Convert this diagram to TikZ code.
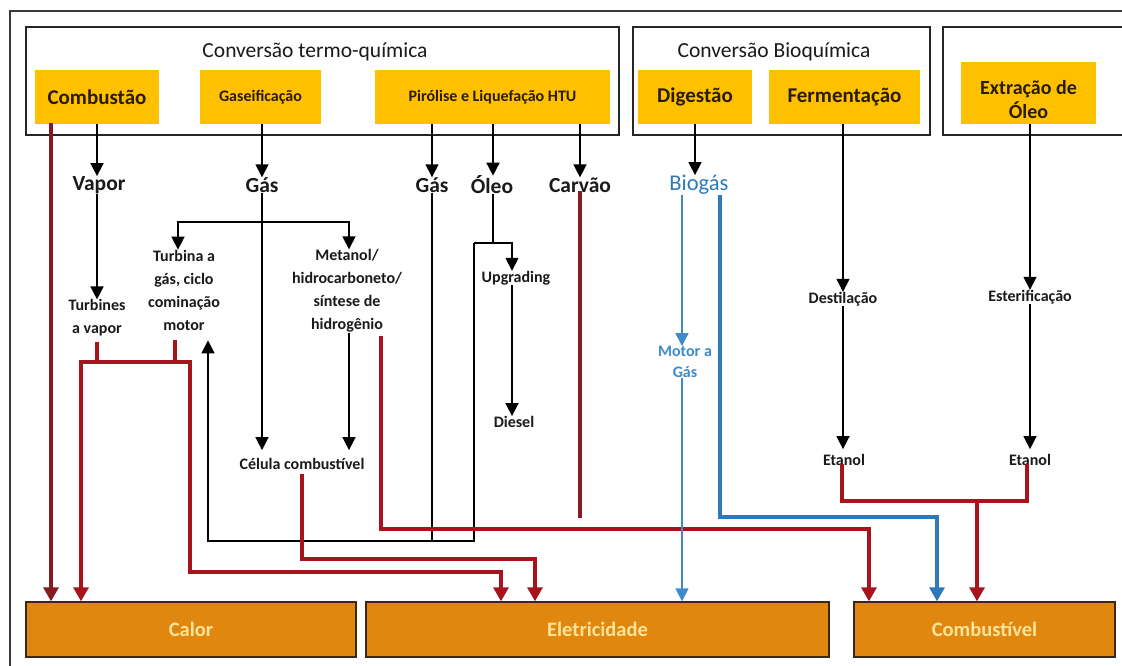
\documentclass[tikz,border=0pt]{standalone}
\usepackage{fontspec}
\setmainfont{Carlito}
\usetikzlibrary{arrows.meta}
\definecolor{ybg}{HTML}{FFC000}
\definecolor{ytx}{HTML}{2A1C00}
\definecolor{obg}{HTML}{E0870F}
\definecolor{otx}{HTML}{FFE49A}
\definecolor{obd}{HTML}{3B2814}
\definecolor{rl}{HTML}{A8141C}
\definecolor{rd}{HTML}{861B24}
\definecolor{bl}{HTML}{2E7AB8}
\definecolor{blt}{HTML}{3D8BCB}
\definecolor{frm}{HTML}{3A3A3A}
\definecolor{tx}{HTML}{1A1A1A}
\newcommand\titlefont{\fontsize{21.5}{26}\selectfont}
\newcommand\labelfont{\bfseries\fontsize{21.5}{26}\selectfont}
\newcommand\boxfont{\bfseries\fontsize{21}{25}\selectfont}
\newcommand\smallfont{\bfseries\fontsize{16}{23}\selectfont}
\newcommand\outfont{\bfseries\fontsize{20.5}{24}\selectfont}
\tikzset{
  grp/.style={draw=black!85, line width=1.4pt, inner sep=0pt},
  ybox/.style={fill=ybg, inner sep=0pt, text=ytx, align=center},
  obox/.style={fill=obg, draw=obd, line width=1.3pt, inner sep=0pt, text=otx, font=\outfont, minimum height=55pt},
  ttl/.style={font=\titlefont, inner sep=0pt, text=tx},
  lbl/.style={font=\labelfont, inner sep=0pt, text=tx},
  sml/.style={font=\smallfont, inner sep=0pt, align=center, text=tx},
  bline/.style={draw=black, line width=1.5pt},
  barr/.style={bline, -{Triangle[length=13pt,width=13pt]}},
  rline/.style={draw=rl, line width=3.2pt, line cap=rect},
  rarr/.style={rline, -{Triangle[length=14pt,width=15pt]}},
  rdline/.style={rline, draw=rd},
  bthin/.style={draw=blt, line width=1.4pt, -{Triangle[length=13pt,width=13pt]}},
  bthick/.style={draw=bl, line width=3.2pt, -{Triangle[length=14pt,width=15pt]}},
}
\begin{document}
\begin{tikzpicture}[x=1pt,y=-1pt]
\useasboundingbox (0,0) rectangle (1122,666);
\fill[white] (0,0) rectangle (1122,666);
\node[draw=frm, line width=1.5pt, minimum width=1130pt, minimum height=680pt, inner sep=0pt] (frame) at (575,351) {};
% group boxes
\node[grp, minimum width=593pt, minimum height=108pt] (gT) at (322.5,81) {};
\node[grp, minimum width=297pt, minimum height=108pt] (gB) at (781.5,81) {};
\node[grp, minimum width=200pt, minimum height=108pt] (gE) at (1043,81) {};
\node[ttl] (tT) at (315,52) {Conversão termo-química};
\node[ttl] (tB) at (774,52) {Conversão Bioquímica};
% yellow boxes
\node[ybox, font=\boxfont, minimum width=124pt, minimum height=54pt] (comb) at (97,97) {Combustão};
\node[ybox, font=\smallfont, minimum width=121pt, minimum height=54pt] (gase) at (260.5,97) {Gaseificação};
\node[ybox, font=\smallfont, minimum width=235pt, minimum height=54pt] (piro) at (492.5,97) {Pirólise e Liquefação HTU};
\node[ybox, font=\boxfont, minimum width=114pt, minimum height=54pt] (dige) at (695,97) {Digestão};
\node[ybox, font=\boxfont, minimum width=151pt, minimum height=54pt] (ferm) at (844.5,97) {Fermentação};
\node[ybox, minimum width=135pt, minimum height=62pt] (extr) at (1028.5,93) {};
\node[ybox, font=\bfseries\fontsize{20}{24}\selectfont] (extrT) at (1028.5,100) {Extração de\\Óleo};
% labels
\node[lbl] (vapor) at (99,185) {Vapor};
\node[lbl] (gas1) at (262,185) {Gás};
\node[lbl] (gas2) at (432,185) {Gás};
\node[lbl] (oleo) at (492,185) {Óleo};
\node[lbl] (carvao) at (580,185) {Carvão};
\node[ttl, font=\fontsize{22.5}{26}\selectfont, text=bl] (biogas) at (699,185) {Biogás};
% intermediate
\node[sml] (turbv) at (97,318) {Turbines\\a vapor};
\node[sml] (turbg) at (184,290) {Turbina a\\gás, ciclo\\cominação\\motor};
\node[sml] (meta) at (347,291) {Metanol/\\hidrocarboneto/\\síntese de\\hidrogênio};
\node[sml] (upg) at (516,278) {Upgrading};
\node[sml] (diesel) at (514,422) {Diesel};
\node[sml] (celula) at (302,464) {Célula combustível};
\node[sml, text=blt, font=\bfseries\fontsize{16}{21}\selectfont] (motor) at (685,362) {Motor a\\Gás};
\node[sml] (dest) at (843,299) {Destilação};
\node[sml] (ester) at (1030,297) {Esterificação};
\node[sml] (etan1) at (844,460) {Etanol};
\node[sml] (etan2) at (1030,460) {Etanol};
% outputs
\node[obox, minimum width=330pt] (calor) at (191,629.5) {Calor};
\node[obox, minimum width=463pt] (eletr) at (597.5,629.5) {Eletricidade};
\node[obox, minimum width=261pt] (combu) at (984.5,629.5) {Combustível};
% black connectors
\draw[barr] (comb.south) -- (vapor.north -| comb.south);
\draw[barr] (gase.south -| gas1.north) -- (gas1.north);
\draw[barr] (piro.south -| gas2.north) -- (gas2.north);
\draw[barr] (piro.south -| 493,0) -- (oleo.north -| 493,0);
\draw[barr] (piro.south -| carvao.north) -- (carvao.north);
\draw[barr] (dige.south) -- (biogas.north -| dige.south);
\draw[barr] (vapor.south -| turbv.north) -- (turbv.north);
\coordinate (gbr) at (gas1.south |- 0,222);
\draw[barr, shorten >=8pt] (gas1.south) -- (gas1.south |- celula.north);
\draw[barr] (gbr) -| (turbg.north -| 178,0);
\draw[barr] (gbr) -| (meta.north -| 349,0);
\draw[barr, shorten >=8pt] (meta.south -| 349,0) -- (celula.north -| 349,0);
\draw[bline] (gas2.south) -- (gas2.south |- 0,541);
\draw[bline] (oleo.south -| 493,0) -- (493,243);
\draw[barr] (474,243) -- (512,243) -- (upg.north -| 512,0);
\draw[barr, shorten >=10pt] (474,243) -- (474,541) -- (208,541) -- (turbg.south -| 208,0);
\draw[barr] (upg.south -| 512,0) -- (diesel.north -| 512,0);
\draw[barr] (ferm.south -| dest.north) -- (dest.north);
\draw[barr] (extr.south -| ester.north) -- (ester.north);
\draw[barr, shorten >=5pt] (dest.south) -- (etan1.north -| dest.south);
\draw[barr, shorten >=5pt] (ester.south) -- (etan2.north);
% red connectors
\draw[rdline, -{Triangle[length=14pt,width=15pt]}] (comb.south -| 51,0) -- (calor.north -| 51,0);
\draw[rline, shorten <=7pt] (turbv.south) -- (97,362);
\draw[rline, shorten <=11pt] (turbg.south -| 175,0) -- (175,362);
\draw[rarr] (190,362) -- (81,362) -- (calor.north -| 81,0);
\draw[rarr] (190,362) -- (190,572) -| (eletr.north -| 501,0);
\draw[rarr, shorten <=6pt] (celula.south) -- (celula.south |- 0,559) -| (eletr.north -| 535,0);
\draw[rarr, shorten <=5pt] (meta.south -| 381,0) -- (381,529) -| (combu.north -| 869,0);
\draw[rdline] (carvao.south) -- (carvao.south |- 0,516);
\draw[rline] (etan1.south -| 842,0) -- (842,501) -- (1027,501) -- (etan2.south -| 1027,0);
\draw[rarr] (977,501) -- (combu.north -| 977,0);
% blue connectors
\draw[bthin] (biogas.south -| 682,0) -- (motor.north -| 682,0);
\draw[bthin] (motor.south -| 682,0) -- (eletr.north -| 682,0);
\draw[bthick] (biogas.south -| 720,0) -- (720,517) -| (combu.north -| 937,0);
\end{tikzpicture}
\end{document}
